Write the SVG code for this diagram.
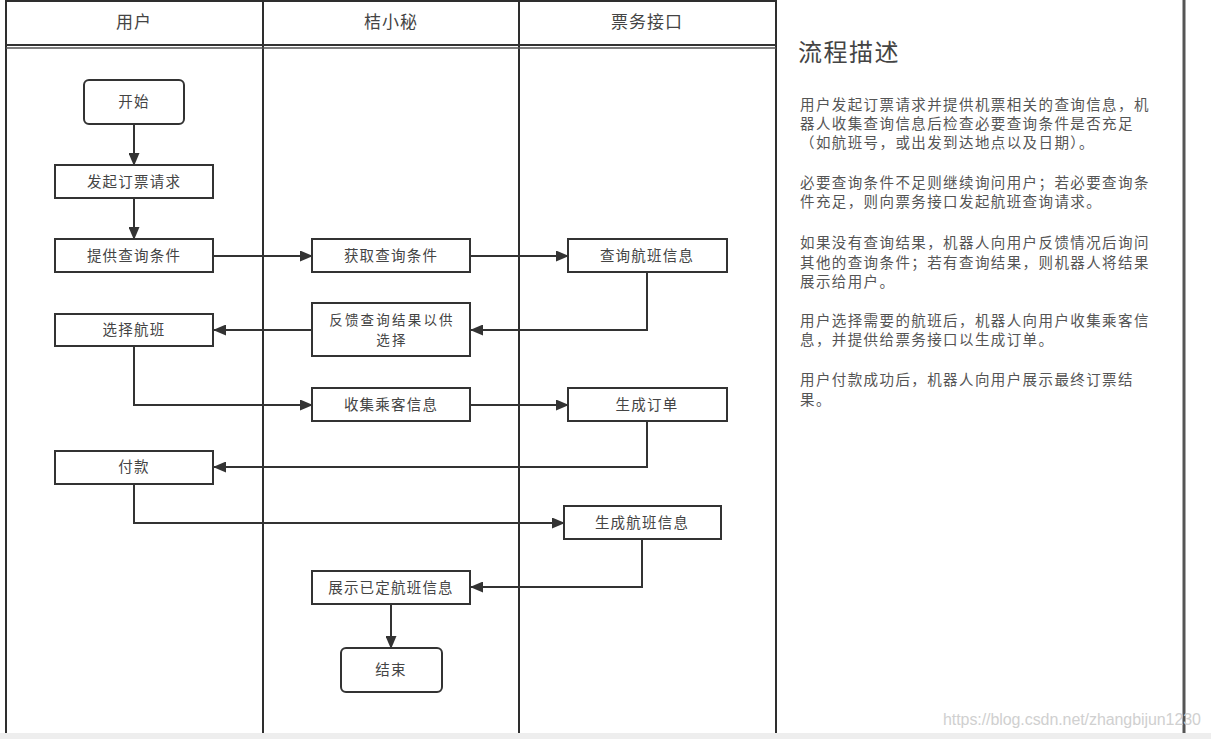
<svg xmlns="http://www.w3.org/2000/svg" width="1211" height="739" viewBox="0 0 1211 739">
<style>
.lane{stroke:#2e2e2e;stroke-width:2;fill:none}
.box{fill:#fff;stroke:#333;stroke-width:2}
.t{font-family:"Noto Sans CJK SC","Liberation Sans",sans-serif;font-size:14.5px;fill:#444;text-anchor:middle;letter-spacing:1.2px}
.t2{font-family:"Noto Sans CJK SC","Liberation Sans",sans-serif;font-size:13.5px;fill:#444;text-anchor:middle;letter-spacing:2.2px}
.h{font-family:"Noto Sans CJK SC","Liberation Sans",sans-serif;font-size:17px;fill:#444;text-anchor:middle;letter-spacing:1px}
.p{font-family:"Noto Sans CJK SC","Liberation Sans",sans-serif;font-size:14.5px;fill:#555;letter-spacing:1.4px}
.c{fill:none;stroke:#333;stroke-width:2}
</style>
<defs>
<marker id="ah" markerWidth="13" markerHeight="11" refX="12" refY="5.5" orient="auto" markerUnits="userSpaceOnUse">
<path d="M0,0 L13,5.5 L0,11 Z" fill="#333"/>
</marker>
</defs>
<rect x="0" y="0" width="1211" height="739" fill="#fff"/>
<g id="lanes">
<line class="lane" x1="6" y1="0" x2="6" y2="739"/>
<line class="lane" x1="263" y1="0" x2="263" y2="739"/>
<line class="lane" x1="519" y1="0" x2="519" y2="739"/>
<line class="lane" x1="776" y1="0" x2="776" y2="739"/>
<line class="lane" x1="6" y1="1" x2="776" y2="1"/>
<line x1="6" y1="45" x2="776" y2="45" stroke="#333" stroke-width="2"/>
<line x1="6" y1="48" x2="776" y2="48" stroke="#555" stroke-width="1.5"/>
<line x1="1184" y1="0" x2="1184" y2="733" stroke="#555" stroke-width="3"/>
<text class="h" x="134" y="28">用户</text>
<text class="h" x="391" y="28">桔小秘</text>
<text class="h" x="647" y="28">票务接口</text>
</g>
<g id="connectors">
<line class="c" x1="134" y1="124" x2="134" y2="165" marker-end="url(#ah)"/>
<line class="c" x1="134" y1="198" x2="134" y2="239" marker-end="url(#ah)"/>
<line class="c" x1="213" y1="256" x2="312" y2="256" marker-end="url(#ah)"/>
<line class="c" x1="470" y1="256" x2="568" y2="256" marker-end="url(#ah)"/>
<polyline class="c" points="647,273 647,330 471,330" marker-end="url(#ah)"/>
<line class="c" x1="312" y1="330" x2="214" y2="330" marker-end="url(#ah)"/>
<polyline class="c" points="134,347 134,405 312,405" marker-end="url(#ah)"/>
<line class="c" x1="470" y1="405" x2="568" y2="405" marker-end="url(#ah)"/>
<polyline class="c" points="647,421 647,467 214,467" marker-end="url(#ah)"/>
<polyline class="c" points="134,484 134,523 564,523" marker-end="url(#ah)"/>
<polyline class="c" points="642,539 642,587 471,587" marker-end="url(#ah)"/>
<line class="c" x1="391" y1="604" x2="391" y2="648" marker-end="url(#ah)"/>
</g>
<g id="n-start"><rect class="box" x="84" y="80" width="100" height="44" rx="5"/><text class="t" x="134" y="107">开始</text></g>
<g id="n-request"><rect class="box" x="55" y="165" width="158" height="33"/><text class="t" x="134" y="187">发起订票请求</text></g>
<g id="n-provide"><rect class="box" x="55" y="239" width="158" height="33"/><text class="t" x="134" y="261">提供查询条件</text></g>
<g id="n-get"><rect class="box" x="312" y="239" width="158" height="33"/><text class="t" x="391" y="261">获取查询条件</text></g>
<g id="n-query"><rect class="box" x="568" y="239" width="159" height="33"/><text class="t" x="647" y="261">查询航班信息</text></g>
<g id="n-feedback"><rect class="box" x="312" y="303" width="158" height="53"/><text class="t2" x="392" y="325">反馈查询结果以供</text><text class="t2" x="392" y="345">选择</text></g>
<g id="n-select"><rect class="box" x="55" y="314" width="158" height="32"/><text class="t" x="134" y="335">选择航班</text></g>
<g id="n-collect"><rect class="box" x="312" y="388" width="158" height="33"/><text class="t" x="391" y="410">收集乘客信息</text></g>
<g id="n-order"><rect class="box" x="568" y="388" width="159" height="33"/><text class="t" x="647" y="410">生成订单</text></g>
<g id="n-pay"><rect class="box" x="55" y="451" width="158" height="33"/><text class="t" x="134" y="472">付款</text></g>
<g id="n-flight"><rect class="box" x="564" y="506" width="157" height="33"/><text class="t" x="642" y="528">生成航班信息</text></g>
<g id="n-show"><rect class="box" x="312" y="571" width="158" height="33"/><text class="t" x="391" y="593">展示已定航班信息</text></g>
<g id="n-end"><rect class="box" x="341" y="648" width="101" height="44" rx="5"/><text class="t" x="391" y="675">结束</text></g>
<g id="desc">
<text x="798" y="61" font-family="'Noto Sans CJK SC',sans-serif" font-size="24" fill="#444" letter-spacing="1.5">流程描述</text>
<text class="p" x="800" y="110">用户发起订票请求并提供机票相关的查询信息，机</text>
<text class="p" x="800" y="129">器人收集查询信息后检查必要查询条件是否充足</text>
<text class="p" x="800" y="148">（如航班号，或出发到达地点以及日期）。</text>
<text class="p" x="800" y="188">必要查询条件不足则继续询问用户；若必要查询条</text>
<text class="p" x="800" y="207">件充足，则向票务接口发起航班查询请求。</text>
<text class="p" x="800" y="248">如果没有查询结果，机器人向用户反馈情况后询问</text>
<text class="p" x="800" y="268">其他的查询条件；若有查询结果，则机器人将结果</text>
<text class="p" x="800" y="287">展示给用户。</text>
<text class="p" x="800" y="326">用户选择需要的航班后，机器人向用户收集乘客信</text>
<text class="p" x="800" y="345">息，并提供给票务接口以生成订单。</text>
<text class="p" x="800" y="385">用户付款成功后，机器人向用户展示最终订票结</text>
<text class="p" x="800" y="405">果。</text>
</g>
<rect x="0" y="733" width="1211" height="6" fill="#eee"/>
<text x="943" y="725" font-family="'Liberation Sans',sans-serif" font-size="16" fill="#d0d0d0" textLength="258">https://blog.csdn.net/zhangbijun1230</text>
</svg>
